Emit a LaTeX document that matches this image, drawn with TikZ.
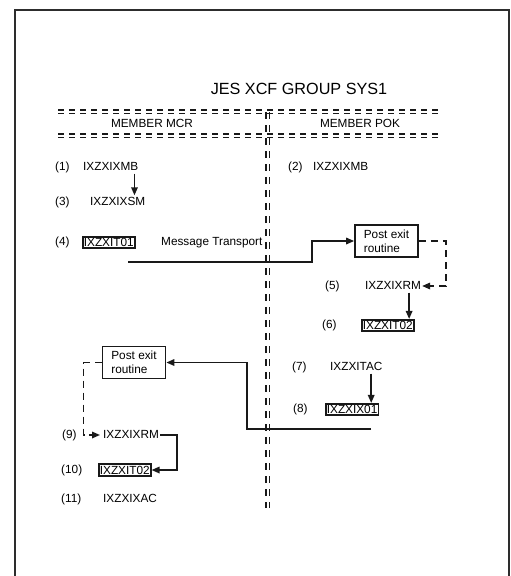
\documentclass[tikz,border=0pt]{standalone}
\usepackage{fontspec}
\setmainfont{Liberation Sans}
\usetikzlibrary{arrows.meta,positioning,calc}
\definecolor{cFrame}{RGB}{45,45,45}
\definecolor{cLine}{RGB}{25,25,25}
\tikzset{
  basetext/.style={inner sep=1pt,anchor=west,font=\fontsize{11.8}{13}\selectfont,
                   text height=8.6pt,text depth=2.4pt},
  numnode/.style={basetext},
  modnode/.style={basetext},
  modbox/.style={basetext,draw=cLine,line width=1.7pt,inner xsep=1pt,inner ysep=1.2pt,
                 text depth=0.4pt},
  exitbox/.style={rectangle,draw=cLine,line width=1.7pt,align=left,
                  minimum width=63pt,minimum height=32pt,inner sep=2pt,
                  font=\fontsize{11.8}{14}\selectfont},
  titlenode/.style={font=\fontsize{16.2}{19}\selectfont},
  memnode/.style={font=\fontsize{11.8}{13}\selectfont},
  frame/.style={draw=cFrame,line width=1.8pt},
  hsep/.style={draw=cLine,line width=1.2pt,dash pattern=on 6pt off 5pt},
  vsep/.style={draw=cLine,line width=1.2pt,dash pattern=on 7pt off 6pt},
  arr/.style={-{Triangle[length=8pt,width=6.5pt]},line width=1.6pt,color=cLine},
  dasharr/.style={arr,dash pattern=on 7pt off 5pt}
}
\begin{document}
\begin{tikzpicture}[x=1pt,y=-1pt]
  \useasboundingbox (0,0) rectangle (511,576);
  % frame, open at the bottom
  \draw[frame] (15,576) -- (15,10) -- (509,10) -- (509,576);

  \node[titlenode] (title) at (299,89) {JES XCF GROUP SYS1};
  % dashed double separators
  \foreach \d in {-1.6,1.6} {
    \draw[hsep] (58,111.5+\d) -- (442,111.5+\d);
    \draw[hsep] (58,135.5+\d) -- (442,135.5+\d);
    \draw[vsep] (267.5+\d,112) -- (267.5+\d,508);
  }
  \node[memnode] (mcr) at (152,123) {MEMBER MCR};
  \node[memnode] (pok) at (360,123) {MEMBER POK};

  % step numbers
  \foreach \n/\x/\y in {1/54/167,3/54/202,4/54/242,2/287/167,5/324/286,6/321/325,
                        7/291/367,8/292/409,9/61/435,10/60/470,11/60/499}
    \node[numnode] (n\n) at (\x,\y) {(\n)};

  \node[modnode] (mb1) at (82,167) {IXZXIXMB};
  \node[modnode] (mb2) at (312,167) {IXZXIXMB};
  \node[modnode] (sm3) at (89,202) {IXZXIXSM};
  \node[modbox] (it01) at (82,242.5) {IXZXIT01};
  \node[modnode] (msg) at (160,242) {Message Transport};
  \node[exitbox] (exitpok) at (386.5,241) {Post exit\\routine};
  \node[modnode] (rm5) at (364,286) {IXZXIXRM};
  \node[modbox] (it02pok) at (361,325.5) {IXZXIT02};
  \node[modnode] (tac7) at (329,367) {IXZXITAC};
  \node[modbox] (ix01) at (325,409.5) {IXZXIX01};
  \node[exitbox] (exitmcr) at (134,362.5) {Post exit\\routine};
  \node[modnode] (rm9) at (102,435) {IXZXIXRM};
  \node[modbox] (it02mcr) at (98,470) {IXZXIT02};
  \node[modnode] (xac11) at (102,499) {IXZXIXAC};

  \coordinate (mtout) at (128,262);
  \coordinate (mtin) at (371,429);

  \draw[arr] ([xshift=-5pt]mb1.south east) -- ([xshift=-5pt]mb1.south east |- sm3.north);
  \draw[arr] (mtout) -- ++(184,0) |- (exitpok.west);
  \draw[dasharr] (exitpok.east) -- ++(27,0) |- (rm5.east);
  \draw[arr] ([xshift=-13pt]rm5.south east) -- ([xshift=-13pt]rm5.south east |- it02pok.north);
  \draw[arr] ([xshift=-8pt]ix01.north east |- tac7.south) -- ([xshift=-8pt]ix01.north east);
  \draw[arr] (mtin) -- ++(-124,0) |- (exitmcr.east);
  \draw[dasharr] (exitmcr.west) -- ++(-18,0) |- ([xshift=-2pt]rm9.west);
  \draw[arr] (rm9.east) -- ++(17,0) |- (it02mcr.east);
\end{tikzpicture}
\end{document}
